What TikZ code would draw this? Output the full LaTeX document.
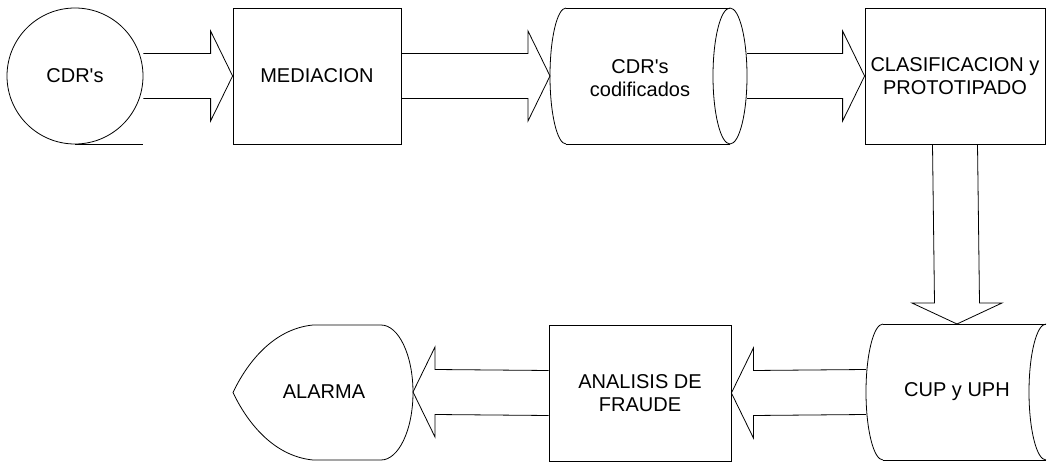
\documentclass[tikz,border=0pt]{standalone}
\usepackage{fontspec}
\setmainfont{Liberation Sans}
\usetikzlibrary{calc}
\newcommand\blkR[2]{\draw ($(#1)+(0,-22.5)$) -- ($(#2)+(-22,-22.5)$) -- ($(#2)+(-22,-45)$) -- (#2) -- ($(#2)+(-22,45)$) -- ($(#2)+(-22,22.5)$) -- ($(#1)+(0,22.5)$);}
\newcommand\blkL[2]{\draw ($(#1)+(0,-22.5)$) -- ($(#2)+(22,-22.5)$) -- ($(#2)+(22,-45)$) -- (#2) -- ($(#2)+(22,45)$) -- ($(#2)+(22,22.5)$) -- ($(#1)+(0,22.5)$);}
\newcommand\blkD[2]{\draw ($(#1)+(-22.5,0)$) -- ($(#2)+(-22.5,-21)$) -- ($(#2)+(-45,-21)$) -- (#2) -- ($(#2)+(45,-21)$) -- ($(#2)+(22.5,-21)$) -- ($(#1)+(22.5,0)$);}
\begin{document}
\begin{tikzpicture}[x=1pt,y=-1pt,line width=0.8pt,
  lbl/.style={font=\fontsize{20}{23}\selectfont,align=center,inner sep=0pt},
  box/.style={draw,lbl,minimum height=136pt}]
\useasboundingbox (0,0) rectangle (1047,462);
% CDR's sequential storage
\node[draw,circle,minimum size=136pt,lbl] (cdr) at (75,76) {CDR\textquotesingle s};
\draw (cdr.south) -- ++(68,0);
% MEDIACION
\node[box,minimum width=168pt] (med) at (317,76) {MEDIACION};
% CDR's codificados (direct access storage)
\coordinate (codW) at (550,76);
\coordinate (codE) at (747,76);
\draw (566,8) -- (730,8);
\draw (566,144) -- (730,144);
\draw (566,8) arc[start angle=90,end angle=270,x radius=16,y radius=-68];
\draw (730,76) ellipse[x radius=17,y radius=68];
\node[lbl] (cod) at (640,78) {CDR\textquotesingle s\\codificados};
% CLASIFICACION
\node[box,minimum width=180pt] (clas) at (955,76) {CLASIFICACION y\\PROTOTIPADO};
% CUP y UPH (stored data)
\coordinate (cupW) at (866,392);
\coordinate (cupN) at (957,324);
\draw (883,324) -- (1046,324);
\draw (883,460) -- (1046,460);
\draw (883,324) arc[start angle=90,end angle=270,x radius=17,y radius=-68];
\draw (1046,324) arc[start angle=90,end angle=270,x radius=17,y radius=-68];
\node[lbl] (cup) at (957,392) {CUP y UPH};
% ANALISIS DE FRAUDE
\node[box,minimum width=182pt] (ana) at (640,393) {ANALISIS DE\\FRAUDE};
% ALARMA (display)
\coordinate (alE) at (413,392);
\draw (313,325) -- (381,325)
  arc[start angle=90,end angle=-90,x radius=32,y radius=-67.5]
  -- (313,460) .. controls (272,456) and (246,420) .. (233,392.5)
  .. controls (246,365) and (272,329) .. (313,325);
\node[lbl] (alarm) at (324,392) {ALARMA};
% block arrows
\blkR{cdr.east}{med.west}
\blkR{med.east}{codW}
\blkR{codE}{clas.west}
\blkD{clas.south}{cupN}
\blkL{cupW}{ana.east}
\blkL{ana.west}{alE}
\end{tikzpicture}
\end{document}
